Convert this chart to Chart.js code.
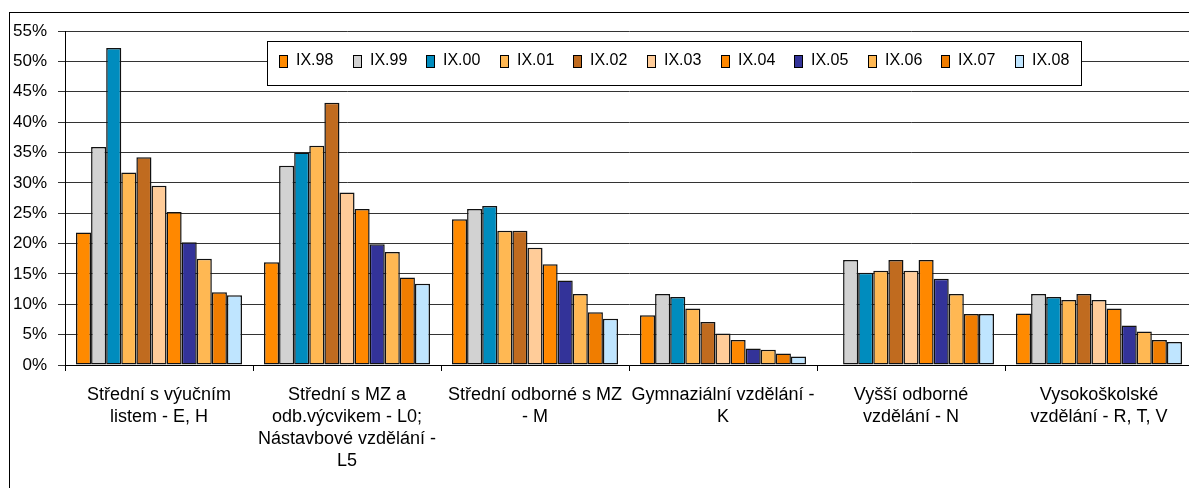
<!DOCTYPE html>
<html>
<head>
<meta charset="utf-8">
<script src="https://cdn.jsdelivr.net/npm/chart.js@4/dist/chart.umd.min.js"></script>
<style>
  html, body { margin: 0; padding: 0; overflow: hidden; background: #fff; }
  #frame { position: absolute; left: 9px; top: 12px; width: 1400px; height: 700px; border: 1px solid #000; }
  #wrap { position: absolute; left: 0; top: 0; }
</style>
</head>
<body>
<div id="frame"></div>
<div id="wrap"><canvas id="chart-canvas" width="1196" height="488"></canvas></div>
<script>
// categories (multi-line axis labels)
var categories = [
  ['Střední s výučním', 'listem - E, H'],
  ['Střední s MZ a', 'odb.výcvikem - L0;', 'Nástavbové vzdělání -', 'L5'],
  ['Střední odborné s MZ', '- M'],
  ['Gymnaziální vzdělání -', 'K'],
  ['Vyšší odborné', 'vzdělání - N'],
  ['Vysokoškolské', 'vzdělání - R, T, V']
];

// series names
var seriesNames = ['IX.98', 'IX.99', 'IX.00', 'IX.01', 'IX.02', 'IX.03', 'IX.04', 'IX.05', 'IX.06', 'IX.07', 'IX.08'];

// values in %, one array per series (order of categories)
var ix98 = [21.8, 16.9, 24.0, 8.2, null, 8.5];
var ix99 = [35.9, 32.8, 25.7, 11.7, 17.3, 11.7];
var ix00 = [52.2, 35.0, 26.2, 11.2, 15.2, 11.2];
var ix01 = [31.7, 36.1, 22.1, 9.3, 15.5, 10.7];
var ix02 = [34.2, 43.2, 22.1, 7.1, 17.3, 11.7];
var ix03 = [29.5, 28.4, 19.3, 5.2, 15.5, 10.7];
var ix04 = [25.2, 25.7, 16.6, 4.1, 17.3, 9.3];
var ix05 = [20.2, 19.9, 13.9, 2.7, 14.2, 6.5];
var ix06 = [17.5, 18.6, 11.7, 2.5, 11.7, 5.5];
var ix07 = [12.0, 14.4, 8.7, 1.9, 8.4, 4.1];
var ix08 = [11.5, 13.4, 7.6, 1.4, 8.4, 3.8];

// y axis ticks
var yTicks = [0, 5, 10, 15, 20, 25, 30, 35, 40, 45, 50, 55];

var seriesValues = [ix98, ix99, ix00, ix01, ix02, ix03, ix04, ix05, ix06, ix07, ix08];
var seriesColors = ['#FF8A00', '#D2D2D2', '#008CBE', '#FFB853', '#C06B1F', '#FFCC99',
                    '#FF8800', '#333399', '#FFB853', '#F07D00', '#BFE5FF'];

var FONT = '"Liberation Sans", Arial, sans-serif';

// legend drawn as a white box inside the plot, like the original
var boxedLegend = {
  id: 'boxedLegend',
  afterDraw: function(chart) {
    var ctx = chart.ctx;
    ctx.save();
    ctx.fillStyle = '#fff';
    ctx.fillRect(267, 41, 814, 44);
    ctx.strokeStyle = '#000';
    ctx.lineWidth = 1;
    ctx.strokeRect(267.5, 41.5, 814, 44);
    ctx.font = '16px ' + FONT;
    ctx.textBaseline = 'middle';
    chart.data.datasets.forEach(function(ds, i) {
      var x = Math.round(279 + i * 73.6);
      ctx.fillStyle = ds.backgroundColor;
      ctx.fillRect(x, 55, 8, 12);
      ctx.strokeStyle = '#000';
      ctx.strokeRect(x + 0.5, 55.5, 8, 12);
      ctx.fillStyle = '#000';
      ctx.fillText(ds.label, x + 17, 61);
    });
    ctx.restore();
  }
};

var ctx = document.getElementById('chart-canvas');

var chartCanvas = new Chart(ctx, {
  type: 'bar',
  data: {
    labels: categories,
    datasets: seriesNames.map(function(name, i) {
      return {
        label: name,
        data: seriesValues[i],
        backgroundColor: seriesColors[i],
        borderColor: '#111',
        borderWidth: 1.5,
        borderSkipped: false,
        categoryPercentage: 0.883,
        barPercentage: 1
      };
    })
  },
  options: {
    responsive: false,
    animation: false,
    layout: { padding: { top: 31, right: 3, left: 0, bottom: 0 } },
    plugins: {
      legend: { display: false },
      tooltip: { enabled: false }
    },
    scales: {
      x: {
        grid: { offset: true, drawOnChartArea: false, color: '#000', tickLength: 6 },
        border: { color: '#000' },
        ticks: {
          color: '#000',
          font: { family: FONT, size: 18, lineHeight: 22 / 18 },
          padding: 13,
          maxRotation: 0,
          autoSkip: false
        },
        afterFit: function(scale) { scale.height = 123; }
      },
      y: {
        min: 0,
        max: 55,
        afterBuildTicks: function(scale) {
          scale.ticks = yTicks.map(function(v) { return { value: v }; });
        },
        grid: { color: '#333', tickLength: 7 },
        border: { color: '#000' },
        ticks: {
          color: '#000',
          font: { family: FONT, size: 17 },
          padding: 11,
          callback: function(v) { return v + '%'; }
        },
        afterFit: function(scale) { scale.width = 65; }
      }
    }
  },
  plugins: [boxedLegend]
});
</script>
</body>
</html>
